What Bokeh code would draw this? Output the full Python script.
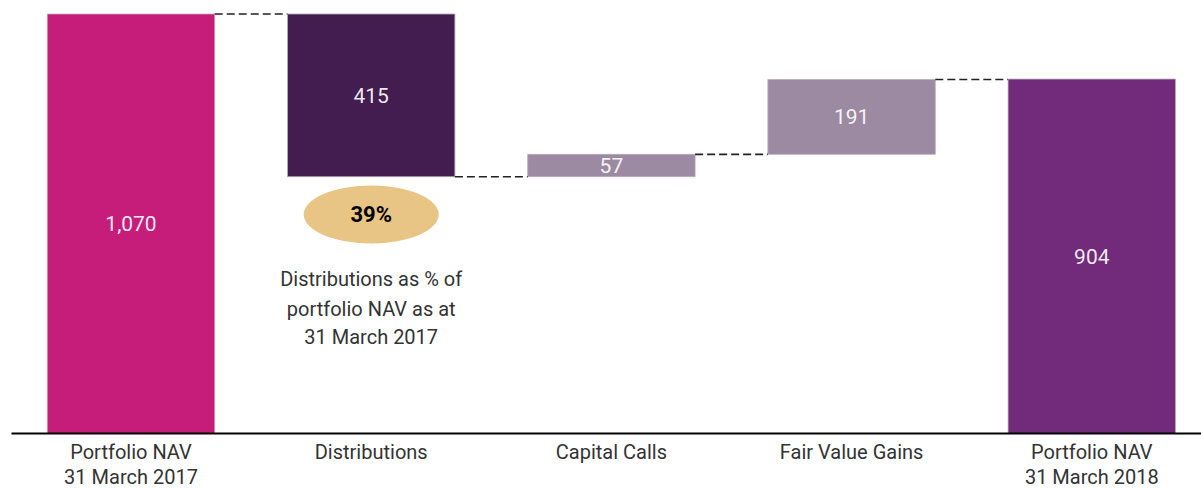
from bokeh.plotting import figure
from bokeh.models import ColumnDataSource, FixedTicker, Range1d
from bokeh.core.properties import value
from bokeh.embed import file_html
from bokeh.resources import INLINE

# ---- data ----
categories = ["Portfolio NAV\n31 March 2017", "Distributions", "Capital Calls",
              "Fair Value Gains", "Portfolio NAV\n31 March 2018"]
changes = [1070, -415, 57, 191, 904]
kinds = ["total", "delta", "delta", "delta", "total"]
bar_labels = ["1,070", "415", "57", "191", "904"]
bar_colors = ["#C71D7A", "#431C50", "#9C89A2", "#9C89A2", "#722B7A"]
ellipse_label = "39%"
note_lines = ["Distributions as % of", "portfolio NAV as at", "31 March 2017"]

FONT = "Roboto"

# ---- waterfall geometry from data ----
xs = list(range(len(categories)))
bottoms, tops, levels = [], [], []
running = 0
for v, k in zip(changes, kinds):
    if k == "total":
        b, t = 0, v
        running = v
    else:
        new = running + v
        b, t = min(running, new), max(running, new)
        running = new
    bottoms.append(b)
    tops.append(t)
    levels.append(running)

W = 0.697
src = ColumnDataSource(dict(x=xs, bottom=bottoms, top=tops, color=bar_colors,
                            label=bar_labels,
                            mid=[(b + t) / 2 for b, t in zip(bottoms, tops)]))

p = figure(frame_width=1190, frame_height=433, output_backend="svg",
           toolbar_location=None,
           x_range=Range1d(-0.4975, 4.4567), y_range=Range1d(0, 1104.4),
           y_axis_location=None, min_border_left=11, min_border_right=0,
           min_border_top=0, min_border_bottom=0)
p.outline_line_color = None
p.xgrid.grid_line_color = None
p.ygrid.grid_line_color = None
p.background_fill_color = "white"

p.vbar(x="x", bottom="bottom", top="top", width=W, fill_color="color",
       line_color="#B8AEB8", line_width=0.8, source=src)

# connectors
cx0 = [x + W / 2 for x in xs[:-1]]
cx1 = [x + 1 - W / 2 for x in xs[:-1]]
p.segment(x0=cx0, y0=levels[:-1], x1=cx1, y1=levels[:-1],
          line_color="#222222", line_width=1.6, line_dash="8 4")

# value labels
p.text(x="x", y="mid", text="label", source=src, text_align="center",
       text_baseline="middle", text_color="white", text_alpha=0.92,
       text_font=value(FONT), text_font_size="21px")

# ellipse annotation under Distributions
ex = xs[1]
p.ellipse(x=[ex], y=[558.6], width=135, height=58, width_units="screen",
          height_units="screen", fill_color="#E8C485", line_color=None)
p.text(x=[ex], y=[558.6], text=[ellipse_label], text_align="center",
       text_baseline="middle", text_color="black", text_font_style="bold",
       text_font=value(FONT), text_font_size="22px")
p.text(x=[ex] * 3, y=[392.8, 318.8, 244.9], text=note_lines, text_align="center",
       text_baseline="alphabetic", text_color="#333333",
       text_font=value(FONT), text_font_size="20px")

# axis
ax = p.xaxis[0]
ax.ticker = FixedTicker(ticks=xs)
ax.major_label_overrides = {i: c for i, c in zip(xs, categories)}
ax.major_tick_line_color = None
ax.minor_tick_line_color = None
ax.major_tick_out = 0
ax.major_tick_in = 0
ax.axis_line_color = "black"
ax.axis_line_width = 2
ax.major_label_standoff = 6
ax.major_label_text_font = FONT
ax.major_label_text_font_size = "20px"
ax.major_label_text_line_height = 1.05
ax.major_label_text_color = "#333333"

open("out.html", "w").write(file_html(p, INLINE))
